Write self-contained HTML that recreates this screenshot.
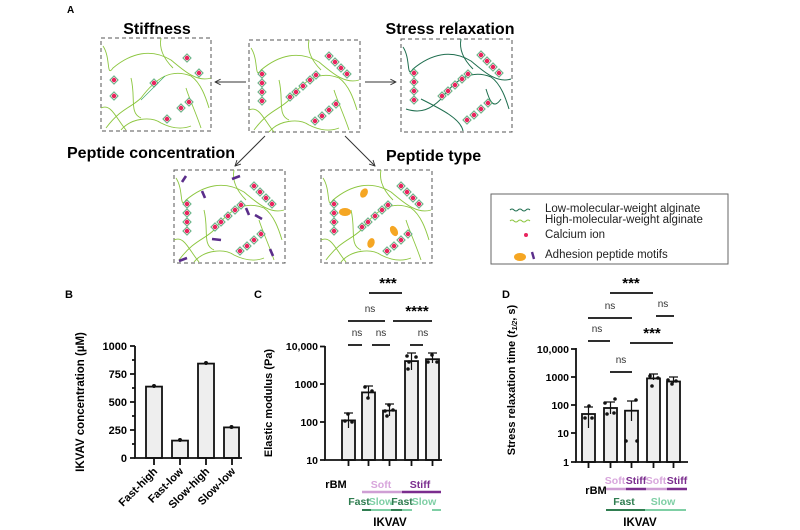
<!DOCTYPE html>
<html><head><meta charset="utf-8"><style>
html,body{margin:0;padding:0;background:#fff}
svg{display:block;font-family:"Liberation Sans",Arial,sans-serif}
.b{font-weight:bold}
</style></head><body>
<svg width="800" height="530" viewBox="0 0 800 530" xmlns="http://www.w3.org/2000/svg">
<defs>
<symbol id="d" overflow="visible"><path d="M0,-4.2 L4.2,0 L0,4.2 L-4.2,0Z" fill="#f9d3da" stroke="#3aa66a" stroke-width="0.7"/><circle r="2.2" fill="#e8245e"/></symbol>
<marker id="ah" viewBox="0 0 10 10" refX="9" refY="5" markerWidth="7" markerHeight="7" orient="auto"><path d="M1,1 L9,5 L1,9" fill="none" stroke="#333" stroke-width="1.3"/></marker>
<g id="net">
<g fill="none" stroke="#8cc63f" stroke-width="0.9">
<path d="M2,8 C10,20 5,40 12,30 C30,15 50,10 70,22 C80,30 95,45 110,40"/>
<path d="M5,90 C20,70 30,70 40,60 C55,40 70,30 90,38 C100,45 105,60 108,70"/>
<path d="M60,0 C58,10 62,20 72,30"/>
<path d="M20,92 C30,80 50,78 60,85 C70,90 80,92 90,88"/>
<path d="M85,50 C88,60 95,75 100,90"/>
<path d="M0,70 C10,65 15,80 25,92"/>
<path d="M30,40 C35,60 28,75 40,80"/>
</g>
</g>
<g id="dots">
<use href="#d" x="13" y="34"/><use href="#d" x="13" y="43"/><use href="#d" x="13" y="52"/><use href="#d" x="13" y="61"/>
<use href="#d" x="41" y="57"/><use href="#d" x="47" y="52"/><use href="#d" x="54" y="46"/><use href="#d" x="61" y="40"/><use href="#d" x="67" y="35"/>
<use href="#d" x="80" y="16"/><use href="#d" x="86" y="22"/><use href="#d" x="92" y="28"/><use href="#d" x="98" y="34"/>
<use href="#d" x="66" y="81"/><use href="#d" x="73" y="76"/><use href="#d" x="80" y="70"/><use href="#d" x="87" y="64"/>
</g>
</defs>

<!-- Panel A -->
<text x="67" y="13" class="b" font-size="10">A</text>
<text x="157" y="34" class="b" font-size="16" text-anchor="middle">Stiffness</text>
<text x="450" y="34" class="b" font-size="16" text-anchor="middle">Stress relaxation</text>
<text x="67" y="158" class="b" font-size="16">Peptide concentration</text>
<text x="386" y="161" class="b" font-size="16">Peptide type</text>

<g fill="none" stroke="#555" stroke-dasharray="4,3" stroke-width="1">
<rect x="101" y="38" width="110" height="93"/>
<rect x="249" y="40" width="111" height="92"/>
<rect x="401" y="39" width="111" height="93"/>
<rect x="174" y="170" width="111" height="93"/>
<rect x="321" y="170" width="111" height="93"/>
</g>
<g stroke="#333" stroke-width="1" marker-end="url(#ah)">
<line x1="246" y1="82" x2="215" y2="82"/>
<line x1="365" y1="82" x2="396" y2="82"/>
<line x1="265" y1="136" x2="235" y2="166"/>
<line x1="345" y1="136" x2="375" y2="166"/>
</g>

<g transform="translate(101,38)"><use href="#net"/>
<use href="#d" x="13" y="42"/><use href="#d" x="13" y="58"/><use href="#d" x="53" y="45"/><use href="#d" x="86" y="20"/><use href="#d" x="98" y="35"/><use href="#d" x="66" y="81"/><use href="#d" x="80" y="70"/><use href="#d" x="88" y="64"/>
<path d="M40,62 L46,56 L52,50 L58,44 L64,38" fill="none" stroke="#3aa66a" stroke-width="0.7"/></g>
<g transform="translate(249,40)"><use href="#net"/><use href="#dots"/></g>
<g transform="translate(401,39)"><g fill="none" stroke="#1f6e4f" stroke-width="1">
<path d="M2,8 C10,20 5,40 12,30 C30,15 50,10 70,22 C80,30 95,45 110,40"/>
<path d="M5,70 C20,75 30,70 40,60 C55,40 70,30 90,38 C100,45 105,60 108,70"/>
<path d="M60,0 C58,10 62,20 72,30"/><path d="M20,60 C40,70 60,80 62,92"/>
<path d="M85,50 C88,60 92,72 100,60"/></g><use href="#dots"/></g>
<g transform="translate(174,170)"><use href="#net"/><use href="#dots"/>
<g stroke="#5a2d8a" stroke-width="2.6"><line x1="8" y1="12" x2="12" y2="6"/><line x1="58" y1="9" x2="66" y2="6"/><line x1="28" y1="21" x2="31" y2="28"/><line x1="72" y1="38" x2="75" y2="45"/><line x1="81" y1="45" x2="88" y2="49"/><line x1="38" y1="69" x2="47" y2="70"/><line x1="5" y1="91" x2="13" y2="88"/><line x1="96" y1="79" x2="99" y2="86"/></g></g>
<g transform="translate(321,170)"><use href="#net"/><use href="#dots"/>
<g fill="#f5a623"><ellipse cx="43" cy="23" rx="3.5" ry="5" transform="rotate(30 43 23)"/><ellipse cx="24" cy="42" rx="6" ry="4"/><ellipse cx="73" cy="61" rx="3.5" ry="5.5" transform="rotate(-30 73 61)"/><ellipse cx="50" cy="73" rx="3.5" ry="5" transform="rotate(20 50 73)"/></g></g>

<!-- legend -->
<rect x="491" y="194" width="237" height="70" fill="none" stroke="#666" stroke-width="1"/>
<path d="M510,210 q2,-2 4,0 t4,0 t4,0 t4,0 t4,0" fill="none" stroke="#1f6e4f" stroke-width="1"/>
<path d="M510,221 q2,-2 4,0 t4,0 t4,0 t4,0 t4,0" fill="none" stroke="#8cc63f" stroke-width="1"/>
<circle cx="526" cy="235" r="2" fill="#e8245e"/>
<ellipse cx="520" cy="257" rx="6" ry="4" fill="#f5a623"/><line x1="532" y1="252" x2="534" y2="259" stroke="#5a2d8a" stroke-width="2.4"/>
<g font-size="11.5" fill="#222"><text x="545" y="212">Low-molecular-weight alginate</text><text x="545" y="223">High-molecular-weight alginate</text><text x="545" y="238">Calcium ion</text><text x="545" y="258">Adhesion peptide motifs</text></g>

<!-- Panel B -->
<text x="65" y="298" class="b" font-size="11">B</text>
<text transform="translate(84,402) rotate(-90)" class="b" font-size="11.5" text-anchor="middle">IKVAV concentration (µM)</text>
<g fill="#eee" stroke="#111" stroke-width="1.8">
<rect x="146" y="386.6" width="16" height="71.4"/><rect x="172" y="440.6" width="16" height="17.4"/><rect x="198" y="363.6" width="16" height="94.4"/><rect x="224" y="427.4" width="15" height="30.6"/></g>
<g fill="#111"><circle cx="154" cy="386" r="2"/><circle cx="180" cy="440" r="2"/><circle cx="206" cy="363" r="2"/><circle cx="231.5" cy="427" r="2"/></g>
<g stroke="#111" stroke-width="1.8" fill="none"><path d="M135,346 V458 H242"/>
<path d="M130,346H135M132,360H135M130,374H135M132,388H135M130,402H135M132,416H135M130,430H135M132,444H135M130,458H135"/>
<path d="M154,458v7M180,458v7M206,458v7M232,458v7"/></g>
<g class="b" font-size="11" text-anchor="end"><text x="127" y="350">1000</text><text x="127" y="378">750</text><text x="127" y="406">500</text><text x="127" y="434">250</text><text x="127" y="462">0</text>
<text transform="translate(158,472) rotate(-45)">Fast-high</text><text transform="translate(184,472) rotate(-45)">Fast-low</text><text transform="translate(210,472) rotate(-45)">Slow-high</text><text transform="translate(236,472) rotate(-45)">Slow-low</text></g>

<!-- Panel C -->
<text x="254" y="298" class="b" font-size="11">C</text>
<text transform="translate(272,403) rotate(-90)" class="b" font-size="11" text-anchor="middle">Elastic modulus (Pa)</text>
<g fill="#eee" stroke="#111" stroke-width="1.8">
<rect x="342" y="420.4" width="13" height="39.6"/><rect x="362" y="392.4" width="13" height="67.6"/><rect x="383" y="410.6" width="13" height="49.4"/><rect x="405" y="361.1" width="13" height="98.9"/><rect x="426" y="359.2" width="13" height="100.8"/></g>
<g stroke="#111" stroke-width="1.2"><path d="M348.5,413v15M344,413h9M368.5,386v12M364,386h9M389.5,404v12M385,404h9M411.5,353v17M407,353h9M432.5,353v10M428,353h9"/></g>
<g fill="#111"><circle cx="348" cy="414" r="1.8"/><circle cx="345" cy="421" r="1.8"/><circle cx="352" cy="422" r="1.8"/><circle cx="365" cy="387" r="1.8"/><circle cx="372" cy="391" r="1.8"/><circle cx="368" cy="398" r="1.8"/><circle cx="389" cy="405" r="1.8"/><circle cx="385" cy="411" r="1.8"/><circle cx="393" cy="410" r="1.8"/><circle cx="387" cy="416" r="1.8"/><circle cx="407" cy="356" r="1.8"/><circle cx="416" cy="357" r="1.8"/><circle cx="409" cy="362" r="1.8"/><circle cx="408" cy="369" r="1.8"/><circle cx="432" cy="355" r="1.8"/><circle cx="428" cy="362" r="1.8"/><circle cx="437" cy="362" r="1.8"/></g>
<g stroke="#111" stroke-width="1.8" fill="none"><path d="M325,346 V460 H442"/>
<path d="M320,346.5H325M320,384H325M320,422H325M320,460H325M348.5,460v6M368.5,460v6M389.5,460v6M411.5,460v6M432.5,460v6"/></g>
<g class="b" font-size="10.5" text-anchor="end"><text x="318" y="350">10,000</text><text x="318" y="388">1000</text><text x="318" y="426">100</text><text x="318" y="464">10</text></g>
<g stroke="#111" stroke-width="1.8"><path d="M369,293H402M348,321H385M393,321H432M348,345H362M372,345H390M410,345H423"/></g>
<text x="388" y="288" class="b" font-size="15" text-anchor="middle">***</text>
<text x="417" y="316" class="b" font-size="15" text-anchor="middle">****</text>
<g font-size="10" fill="#333" text-anchor="middle"><text x="370" y="312">ns</text><text x="357" y="336">ns</text><text x="381" y="336">ns</text><text x="423" y="336">ns</text></g>
<text x="336" y="488" class="b" font-size="11" text-anchor="middle">rBM</text>
<text x="381" y="488" class="b" font-size="10.5" text-anchor="middle" fill="#d8a6dc">Soft</text>
<text x="420" y="488" class="b" font-size="10.5" text-anchor="middle" fill="#7b2d8e">Stiff</text>
<path d="M362,492H402" stroke="#cf9ed4" stroke-width="2.5"/><path d="M402,492H441" stroke="#7b2d8e" stroke-width="2.5"/>
<g class="b" font-size="10.5" text-anchor="middle"><text x="359" y="505" fill="#2f7d50">Fast</text><text x="381" y="505" fill="#7fcfa5">Slow</text><text x="402" y="505" fill="#2f7d50">Fast</text><text x="424" y="505" fill="#7fcfa5">Slow</text></g>
<path d="M362,510H371M391,510H402" stroke="#2f7d50" stroke-width="2"/><path d="M371,510H391M402,510H412M432,510H441" stroke="#7fcfa5" stroke-width="2"/>
<text x="390" y="526" class="b" font-size="11.5" text-anchor="middle">IKVAV</text>

<!-- Panel D -->
<text x="502" y="298" class="b" font-size="11">D</text>
<text transform="translate(515,380) rotate(-90)" class="b" font-size="11" text-anchor="middle">Stress relaxation time (<tspan font-style="italic">t</tspan><tspan font-size="7" dy="2" font-style="italic">1/2</tspan><tspan dy="-2">, s)</tspan></text>
<g fill="#eee" stroke="#111" stroke-width="1.8">
<rect x="582" y="414" width="13" height="48"/><rect x="604" y="408" width="13" height="54"/><rect x="625" y="410.7" width="13" height="51.3"/><rect x="647" y="378.4" width="13" height="83.6"/><rect x="667" y="381.5" width="13" height="80.5"/></g>
<g stroke="#111" stroke-width="1.2"><path d="M588.5,407v21M584,407h9M610.5,402v12M606,402h9M631.5,401v20M627,401h9M653.5,374v6M649,374h9M673.5,377v6M669,377h9"/></g>
<g fill="#111"><circle cx="589" cy="406" r="1.8"/><circle cx="585" cy="418" r="1.8"/><circle cx="592" cy="418" r="1.8"/><circle cx="605" cy="403" r="1.8"/><circle cx="615" cy="399" r="1.8"/><circle cx="607" cy="414" r="1.8"/><circle cx="614" cy="413" r="1.8"/><circle cx="636" cy="400" r="1.8"/><circle cx="626" cy="441" r="1.8"/><circle cx="637" cy="441" r="1.8"/><circle cx="650" cy="376" r="1.8"/><circle cx="658" cy="378" r="1.8"/><circle cx="652" cy="386" r="1.8"/><circle cx="668" cy="380" r="1.8"/><circle cx="676" cy="381" r="1.8"/><circle cx="672" cy="384" r="1.8"/></g>
<g stroke="#111" stroke-width="1.8" fill="none"><path d="M576,348 V462 H688"/>
<path d="M571,349H576M571,377H576M571,405H576M571,433H576M571,462H576M588.5,462v6M610.5,462v6M631.5,462v6M653.5,462v6M673.5,462v6"/></g>
<g class="b" font-size="10.5" text-anchor="end"><text x="569" y="353">10,000</text><text x="569" y="381">1000</text><text x="569" y="409">100</text><text x="569" y="437">10</text><text x="569" y="466">1</text></g>
<g stroke="#111" stroke-width="1.8"><path d="M610,293H653M588,318H632M656,316H674M588,341H610M630,343H673M610,372H632"/></g>
<text x="631" y="288" class="b" font-size="15" text-anchor="middle">***</text>
<text x="652" y="338" class="b" font-size="15" text-anchor="middle">***</text>
<g font-size="10" fill="#333" text-anchor="middle"><text x="610" y="309">ns</text><text x="663" y="307">ns</text><text x="597" y="332">ns</text><text x="621" y="363">ns</text></g>
<text x="596" y="494" class="b" font-size="11" text-anchor="middle">rBM</text>
<g class="b" font-size="10.5" text-anchor="middle"><text x="615" y="484" fill="#d8a6dc">Soft</text><text x="636" y="484" fill="#7b2d8e">Stiff</text><text x="656" y="484" fill="#d8a6dc">Soft</text><text x="677" y="484" fill="#7b2d8e">Stiff</text></g>
<path d="M606,489H626M646,489H667" stroke="#cf9ed4" stroke-width="2.5"/><path d="M626,489H646M667,489H687" stroke="#7b2d8e" stroke-width="2.5"/>
<text x="624" y="505" class="b" font-size="10.5" text-anchor="middle" fill="#2f7d50">Fast</text>
<text x="663" y="505" class="b" font-size="10.5" text-anchor="middle" fill="#7fcfa5">Slow</text>
<path d="M606,510H645" stroke="#2f7d50" stroke-width="2"/><path d="M645,510H686" stroke="#7fcfa5" stroke-width="2"/>
<text x="640" y="526" class="b" font-size="11.5" text-anchor="middle">IKVAV</text>
</svg>
</body></html>
